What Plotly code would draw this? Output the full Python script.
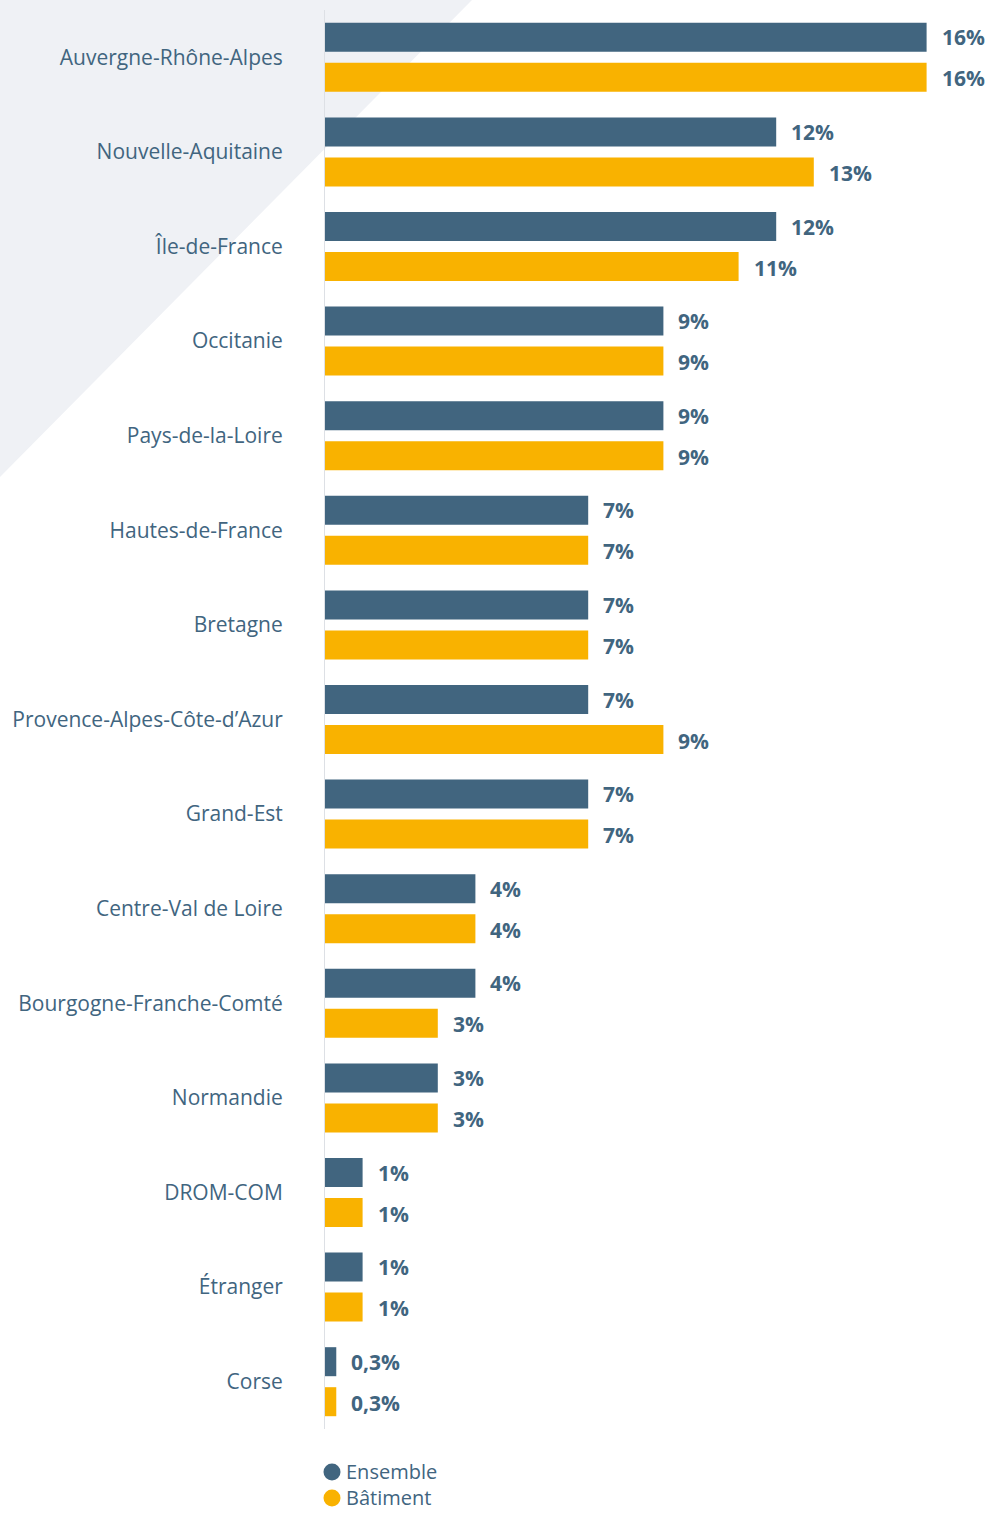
import plotly.graph_objects as go

categories = ["Auvergne-Rhône-Alpes", "Nouvelle-Aquitaine", "Île-de-France", "Occitanie",
              "Pays-de-la-Loire", "Hautes-de-France", "Bretagne", "Provence-Alpes-Côte-d’Azur",
              "Grand-Est", "Centre-Val de Loire", "Bourgogne-Franche-Comté", "Normandie",
              "DROM-COM", "Étranger", "Corse"]
ensemble = [16, 12, 12, 9, 9, 7, 7, 7, 7, 4, 4, 3, 1, 1, 0.3]
batiment = [16, 13, 11, 9, 9, 7, 7, 9, 7, 4, 3, 3, 1, 1, 0.3]
series_names = ["Ensemble", "Bâtiment"]

BLUE = "#41657F"
ORANGE = "#F9B200"
TEXT = "#41657F"
FONT = "Open Sans"
FS = 21
LEG_FS = 20

def fmt(v):
    s = f"{v:g}".replace(".", ",")
    return s + "%"

W, H = 991, 1513
ML, MR, MT, MB = 325, 8, 10, 84
PW, PH = W - ML - MR, H - MT - MB

def px2x(p):
    return (p - ML) / PW

def py2y(p):
    return 1 - (p - MT) / PH

fig = go.Figure()
colors = [BLUE, ORANGE]
for name, vals, col in zip(series_names, [ensemble, batiment], colors):
    fig.add_trace(go.Bar(
        y=categories, x=vals, orientation="h", name=name,
        marker=dict(color=col, line=dict(width=0)),
        showlegend=False, hoverinfo="skip",
    ))

annotations = []
for vals, shift in [(ensemble, 20), (batiment, -21)]:
    for c, v in zip(categories, vals):
        annotations.append(dict(
            x=v, y=c, xref="x", yref="y", text="<b>" + fmt(v) + "</b>",
            showarrow=False, xanchor="left", yanchor="middle", xshift=13, yshift=shift,
            font=dict(family=FONT, size=FS, color=TEXT),
        ))

# background triangle in top-left corner
tri = f"M {px2x(0)},{py2y(0)} L {px2x(472)},{py2y(0)} L {px2x(0)},{py2y(477)} Z"
shapes = [dict(type="path", path=tri, xref="paper", yref="paper",
               fillcolor="#EFF1F5", line=dict(width=0), layer="below")]

# legend (circles + two-line label)
leg_y = [1471, 1497]
r = 8.5
for col, yy in zip(colors, leg_y):
    shapes.append(dict(type="circle", xref="paper", yref="paper",
                       x0=px2x(332 - r), x1=px2x(332 + r), y0=py2y(yy + 1 + r), y1=py2y(yy + 1 - r),
                       fillcolor=col, line=dict(width=0)))
annotations.append(dict(x=px2x(345), y=py2y((leg_y[0] + leg_y[1]) / 2), xref="paper", yref="paper",
                        text="<br>".join(series_names), showarrow=False, align="left",
                        xanchor="left", yanchor="middle", borderpad=0,
                        font=dict(family=FONT, size=LEG_FS, color=TEXT)))

fig.update_layout(
    width=W, height=H,
    margin=dict(l=ML, r=MR, t=MT, b=MB, pad=0),
    paper_bgcolor="white", plot_bgcolor="rgba(0,0,0,0)",
    barmode="group", bargap=0.154, bargroupgap=0.275,
    font=dict(family=FONT, size=FS, color=TEXT),
    xaxis=dict(range=[0, 17.5], visible=False, fixedrange=True),
    yaxis=dict(autorange="reversed", showline=True, linecolor="#DDE0E5", linewidth=1,
               showgrid=False, zeroline=False, ticks="", ticklabelstandoff=37,
               tickfont=dict(family=FONT, size=FS, color=TEXT), fixedrange=True),
    shapes=shapes,
    annotations=annotations,
    showlegend=False,
)

fig.write_html("out.html", config={"displayModeBar": False},
               post_script="document.body.style.margin='0';")
